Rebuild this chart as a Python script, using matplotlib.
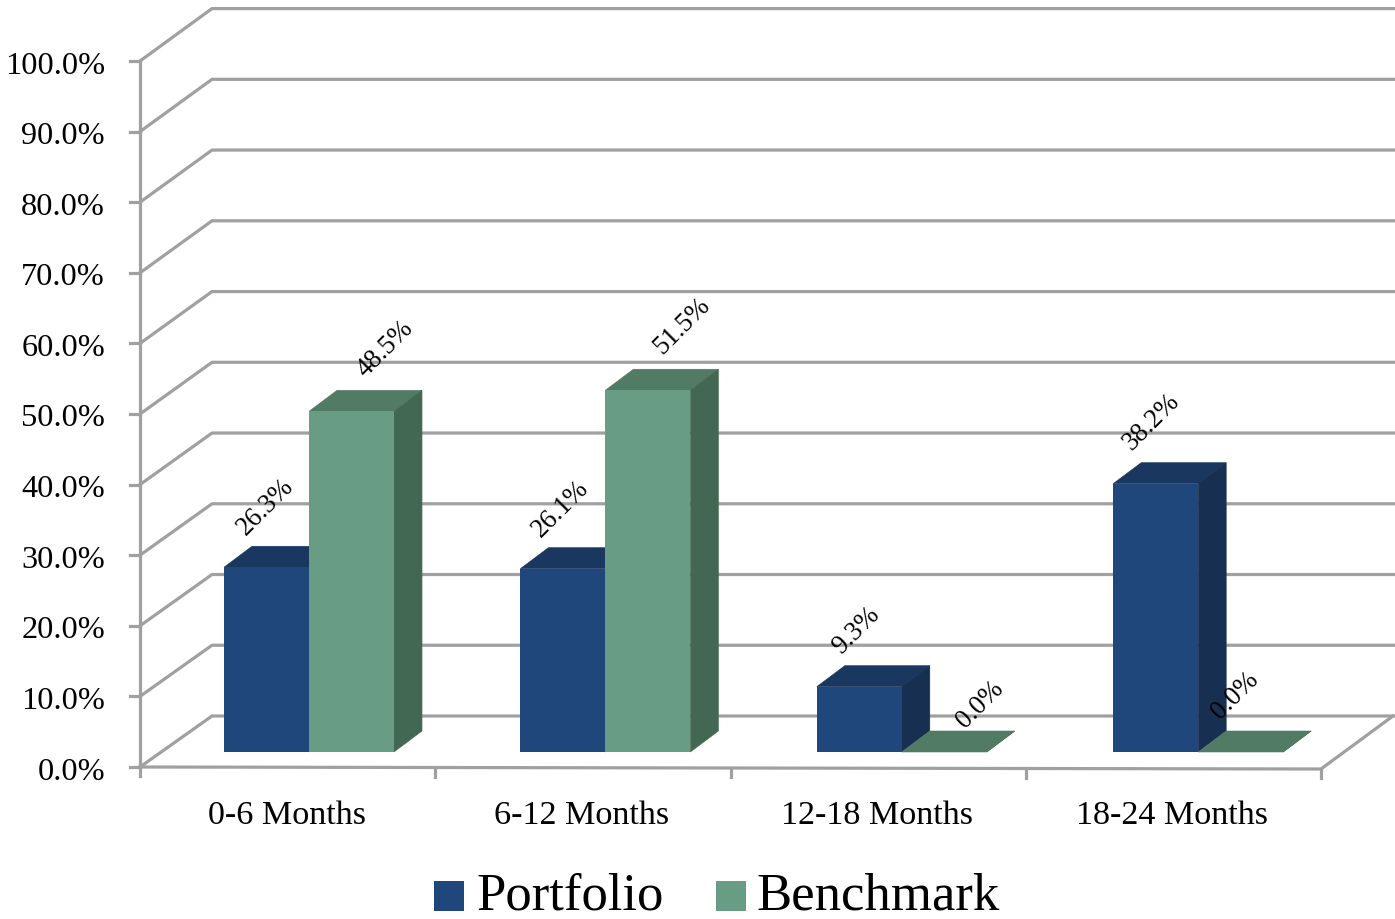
import matplotlib
matplotlib.use("Agg")
import matplotlib.pyplot as plt
from matplotlib.patches import Polygon, Rectangle

categories = ['0-6 Months', '6-12 Months', '12-18 Months', '18-24 Months']
portfolio = [26.3, 26.1, 9.3, 38.2]
benchmark = [48.5, 51.5, 0.0, 0.0]
y_ticks = [0, 10, 20, 30, 40, 50, 60, 70, 80, 90, 100]

# label offsets from the bar's top left corner, in pixels
portfolio_label_px = [(42, 60), (40, 60), (39, 56), (38, 62)]
benchmark_label_px = [(76, 62), (77, 64), (78, 47), (37, 56)]

W, H = 1395, 919
X0, CAT_W = 140, 295.25
Y0, PCT = 767, 7.06

GRID = '#a0a0a0'
BLUE = ('#20477c', '#19375f', '#172f50')
GREEN = ('#699c84', '#527b66', '#426752')
FONT = 'Liberation Serif'

plt.rcParams['font.family'] = FONT

fig = plt.figure(figsize=(W / 100, H / 100), dpi=100)
ax = fig.add_axes([0, 0, 1, 1])
ax.set_xlim(-X0 / CAT_W, (W - X0) / CAT_W)
ax.set_ylim((Y0 - H) / PCT, Y0 / PCT)
ax.axis('off')


def dx(px):
    return px / CAT_W


def dy(px):
    return px / PCT


# walls and floor
depth_x, depth_y = dx(72), dy(51)
for v in y_ticks:
    back = v * 1.002 + depth_y
    ax.plot([0, depth_x, 4 + depth_x + dx(2)], [v, back, back], color=GRID, lw=2.3, zorder=1)
    ax.plot([-dx(10), 0], [v, v], color=GRID, lw=2.3, zorder=1)
    ax.text(-dx(35), v - dy(5), f'{v:.1f}%', ha='right', va='center', fontsize=23.3, color='black')
ax.plot([0, 0], [0, 100], color=GRID, lw=2.3, zorder=1)
ax.plot([0, 4, 4 + depth_x], [0, -dy(2), depth_y], color=GRID, lw=2.3, zorder=1)
for i in range(5):
    ax.plot([i, i], [-dy(i * 0.5), -dy(i * 0.5 + 9)], color=GRID, lw=2.3, zorder=1)

for i, cat in enumerate(categories):
    ax.text(i + 0.497, -dy(49), cat, ha='center', va='center', fontsize=24.6, color='black')


def bar3d(left, value, colors, zorder):
    w = dx(85)
    base = dy(15)
    ox, oy = dx(28), dy(21)
    top = base + value * 0.995
    x1 = left + w
    ax.add_patch(Polygon([(left, top), (x1, top), (x1 + ox, top + oy), (left + ox, top + oy)],
                         fc=colors[1], ec=colors[1], lw=0.4, zorder=zorder))
    ax.add_patch(Polygon([(x1, base), (x1 + ox, base + oy), (x1 + ox, top + oy), (x1, top)],
                         fc=colors[2], ec=colors[2], lw=0.4, zorder=zorder))
    ax.add_patch(Rectangle((left, base), w, top - base, fc=colors[0], ec='none', zorder=zorder))
    return top


for i in range(4):
    left = i * 1.0039 + dx(84)
    top = bar3d(left, portfolio[i], BLUE, 3)
    off = portfolio_label_px[i]
    ax.text(left + dx(off[0]), top + dy(off[1]), f'{portfolio[i]:.1f}%', rotation=45,
            ha='center', va='center', fontsize=19.3, color='black', zorder=6)
    left2 = left + dx(85)
    top = bar3d(left2, benchmark[i], GREEN, 4)
    off = benchmark_label_px[i]
    ax.text(left2 + dx(off[0]), top + dy(off[1]), f'{benchmark[i]:.1f}%', rotation=45,
            ha='center', va='center', fontsize=19.3, color='black', zorder=6)

# legend
ax.add_patch(Rectangle((dx(434 - X0), -dy(911 - Y0)), dx(30), dy(30), fc=BLUE[0], ec='none'))
ax.text(dx(476 - X0), -dy(896 - Y0), 'Portfolio', ha='left', va='center', fontsize=38, color='black')
ax.add_patch(Rectangle((dx(716 - X0), -dy(911 - Y0)), dx(30), dy(30), fc=GREEN[0], ec='none'))
ax.text(dx(756 - X0), -dy(896 - Y0), 'Benchmark', ha='left', va='center', fontsize=38, color='black')

fig.savefig('out.png', dpi=100)
